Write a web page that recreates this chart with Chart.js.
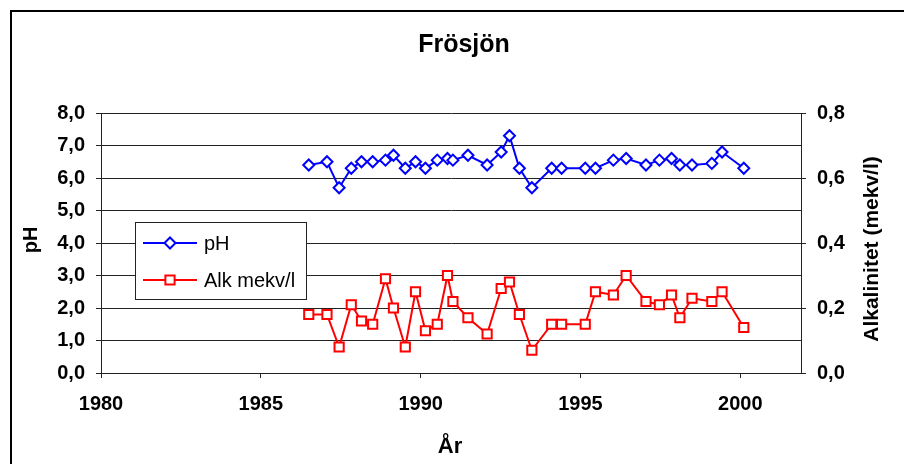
<!DOCTYPE html>
<html lang="sv">
<head>
<meta charset="utf-8">
<title>Frösjön</title>
<script src="https://cdn.jsdelivr.net/npm/chart.js@4.4.1/dist/chart.umd.min.js"></script>
<style>
    html, body { margin: 0; padding: 0; background: #fff; }
    #wrap { width: 904px; height: 464px; position: relative; overflow: hidden; }
</style>
</head>
<body>
<div id="wrap"><canvas id="lakeChart" width="904" height="464"></canvas></div>
<script>
// Sampling dates (decimal year) and measured values
const sampleDates = [1986.5, 1987.07, 1987.45, 1987.83, 1988.15, 1988.5, 1988.9, 1989.15, 1989.52, 1989.84,
    1990.15, 1990.52, 1990.84, 1991.01, 1991.48, 1992.08, 1992.52, 1992.78, 1993.09, 1993.48,
    1994.1, 1994.41, 1995.15, 1995.47, 1996.03, 1996.43, 1997.05, 1997.47, 1997.85, 1998.11,
    1998.49, 1999.11, 1999.43, 2000.11];
const phValues = [6.4, 6.5, 5.7, 6.3, 6.5, 6.5, 6.55, 6.7, 6.3, 6.5,
    6.3, 6.55, 6.6, 6.55, 6.7, 6.4, 6.8, 7.3, 6.3, 5.7,
    6.3, 6.3, 6.3, 6.3, 6.55, 6.6, 6.4, 6.55, 6.6, 6.4,
    6.4, 6.45, 6.8, 6.3];
const alkValues = [0.18, 0.18, 0.08, 0.21, 0.16, 0.15, 0.29, 0.20, 0.08, 0.25,
    0.13, 0.15, 0.30, 0.22, 0.17, 0.12, 0.26, 0.28, 0.18, 0.07,
    0.15, 0.15, 0.15, 0.25, 0.24, 0.30, 0.22, 0.21, 0.24, 0.17,
    0.23, 0.22, 0.25, 0.14];
const yearTicks = [1980, 1985, 1990, 1995, 2000];

const FONT = "'Liberation Sans', Arial, sans-serif";
const BLUE = '#0000ff';
const RED = '#ff0000';

const commaFmt = (v, d) => Number(v).toFixed(d).replace('.', ',');

// Frame, titles and the boxed legend drawn on top of the chart
const decorations = {
    id: 'decorations',
    afterDatasetsDraw(chart) {
        const ctx = chart.ctx;
        ctx.save();

        // outer frame
        ctx.strokeStyle = '#000';
        ctx.lineWidth = 2;
        ctx.strokeRect(11, 11, 1000, 1000);

        ctx.fillStyle = '#000';
        ctx.textAlign = 'center';
        ctx.textBaseline = 'alphabetic';
        ctx.font = 'bold 25px ' + FONT;
        ctx.fillText('Frösjön', 464, 52);

        ctx.font = 'bold 22px ' + FONT;
        ctx.fillText('År', 450, 453);

        ctx.textBaseline = 'middle';
        ctx.save();
        ctx.translate(31, 240);
        ctx.rotate(-Math.PI / 2);
        ctx.font = 'bold 20px ' + FONT;
        ctx.fillText('pH', 0, 0);
        ctx.restore();

        ctx.save();
        ctx.translate(872, 249);
        ctx.rotate(-Math.PI / 2);
        ctx.font = 'bold 21px ' + FONT;
        ctx.fillText('Alkalinitet (mekv/l)', 0, 0);
        ctx.restore();

        // legend box
        ctx.fillStyle = '#fff';
        ctx.fillRect(135, 222, 171, 77);
        ctx.strokeStyle = '#222';
        ctx.lineWidth = 1;
        ctx.strokeRect(135.5, 222.5, 171, 77);

        const rows = [
            { y: 243, ds: chart.data.datasets[0] },
            { y: 280, ds: chart.data.datasets[1] }
        ];
        rows.forEach(row => {
            ctx.strokeStyle = row.ds.borderColor;
            ctx.lineWidth = 2;
            ctx.beginPath();
            ctx.moveTo(143, row.y);
            ctx.lineTo(197, row.y);
            ctx.stroke();
            ctx.fillStyle = '#fff';
            Chart.helpers.drawPoint(ctx, {
                pointStyle: row.ds.pointStyle,
                radius: row.ds.pointRadius,
                borderWidth: 2,
                rotation: 0
            }, 170, row.y);
            ctx.fillStyle = '#000';
            ctx.textAlign = 'left';
            ctx.font = '20px ' + FONT;
            ctx.fillText(row.ds.label, 204, row.y + 1);
        });

        ctx.restore();
    }
};

function buildChart() {
    const ctx = document.getElementById('lakeChart').getContext('2d');
    const tickFont = { family: FONT, size: 20, weight: 'bold' };

    new Chart(ctx, {
        type: 'line',
        data: {
            datasets: [{
                label: 'pH',
                data: sampleDates.map((d, i) => ({ x: d, y: phValues[i] })),
                yAxisID: 'y',
                borderColor: BLUE,
                borderWidth: 2,
                pointStyle: 'rectRot',
                pointRadius: 5.5,
                pointBorderWidth: 2,
                pointBorderColor: BLUE,
                pointBackgroundColor: '#fff',
                tension: 0
            }, {
                label: 'Alk mekv/l',
                data: sampleDates.map((d, i) => ({ x: d, y: alkValues[i] })),
                yAxisID: 'y1',
                borderColor: RED,
                borderWidth: 2,
                pointStyle: 'rect',
                pointRadius: 6.5,
                pointBorderWidth: 2,
                pointBorderColor: RED,
                pointBackgroundColor: '#fff',
                tension: 0
            }]
        },
        options: {
            responsive: false,
            animation: false,
            layout: { padding: { top: 113, left: 0, right: 0, bottom: 0 } },
            plugins: {
                legend: { display: false },
                tooltip: { enabled: false }
            },
            scales: {
                x: {
                    type: 'linear',
                    min: 1980,
                    max: 2001.9,
                    afterBuildTicks: scale => { scale.ticks = yearTicks.map(v => ({ value: v })); },
                    afterFit: scale => { scale.height = 91; },
                    grid: { drawOnChartArea: false, tickLength: 5, color: '#222' },
                    border: { color: '#222' },
                    ticks: { font: tickFont, color: '#000', padding: 14, callback: v => String(v) }
                },
                y: {
                    position: 'left',
                    min: 0,
                    max: 8,
                    afterFit: scale => { scale.width = 101; },
                    grid: { color: '#222', tickLength: 5 },
                    border: { color: '#222' },
                    ticks: { stepSize: 1, font: tickFont, color: '#000', padding: 11, callback: v => commaFmt(v, 1) }
                },
                y1: {
                    position: 'right',
                    min: 0,
                    max: 0.8,
                    afterFit: scale => { scale.width = 103; },
                    grid: { drawOnChartArea: false, tickLength: 5, color: '#222' },
                    border: { color: '#222' },
                    ticks: { stepSize: 0.2, font: tickFont, color: '#000', padding: 11, callback: v => commaFmt(v, 1) }
                }
            }
        },
        plugins: [decorations]
    });
}

document.addEventListener('DOMContentLoaded', buildChart);
</script>
</body>
</html>
